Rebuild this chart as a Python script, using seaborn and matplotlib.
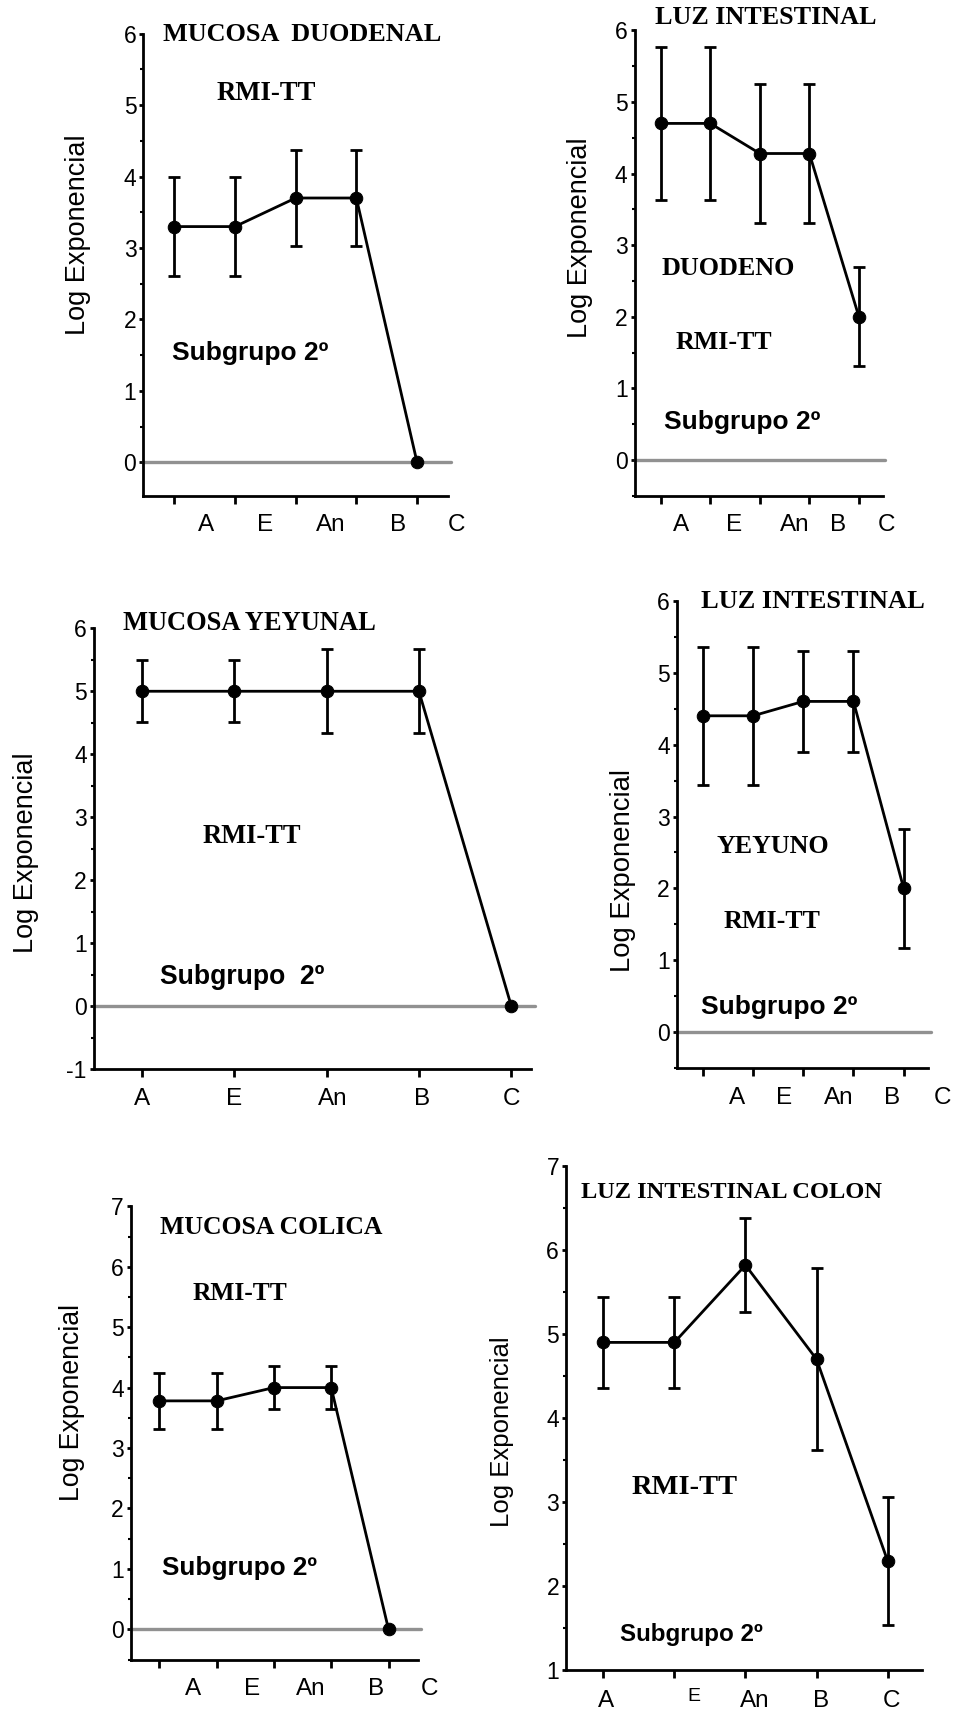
import matplotlib
matplotlib.use("Agg")
import matplotlib.pyplot as plt
import seaborn as sns
import pandas as pd
from matplotlib.ticker import MultipleLocator

sns.set_theme(style="ticks", rc={
    "axes.edgecolor": "black", "xtick.color": "black", "ytick.color": "black",
    "text.color": "black", "axes.labelcolor": "black",
    "axes.facecolor": "white", "figure.facecolor": "white",
    "axes.unicode_minus": False,
})
plt.rcParams["font.family"] = ["Liberation Sans", "DejaVu Sans"]
plt.rcParams["axes.unicode_minus"] = False

# ---------------- data ----------------
categories = ["A", "E", "An", "B", "C"]

duo_mucosa_mean = [3.3, 3.3, 3.7, 3.7, 0.0]
duo_mucosa_err = [0.69, 0.69, 0.67, 0.67, 0.0]

duo_luz_mean = [4.7, 4.7, 4.28, 4.28, 2.0]
duo_luz_err = [1.07, 1.07, 0.97, 0.97, 0.69]

yey_mucosa_mean = [5.0, 5.0, 5.0, 5.0, 0.0]
yey_mucosa_err = [0.49, 0.49, 0.67, 0.67, 0.0]

yey_luz_mean = [4.4, 4.4, 4.6, 4.6, 2.0]
yey_luz_err = [0.96, 0.96, 0.70, 0.70, 0.83]

col_mucosa_mean = [3.78, 3.78, 4.0, 4.0, 0.0]
col_mucosa_err = [0.46, 0.46, 0.35, 0.35, 0.0]

col_luz_mean = [4.9, 4.9, 5.82, 4.7, 2.3]
col_luz_err = [0.54, 0.54, 0.56, 1.08, 0.76]

W, H = 958, 1709
fig = plt.figure(figsize=(W / 100, H / 100), dpi=100)


def px(x, y):
    return x / W, 1 - y / H


def add_ax(l, t, r, b):
    return fig.add_axes([l / W, 1 - b / H, (r - l) / W, (b - t) / H])


SERIF = ["Liberation Serif", "DejaVu Serif"]
SANS = ["Liberation Sans", "DejaVu Sans"]

panels = [
    dict(mean=duo_mucosa_mean, err=duo_mucosa_err, box=(143.3, 33.7, 448, 495.9),
         xlim=(-0.51, 4.51), ylim=(-0.47, 6), zero=True,
         labpos=[0.52, 1.50, 2.58, 3.69, 4.65], laboff=13.2,
         ylab=(78, 235), ylfs=19.5,
         texts=[("MUCOSA  DUODENAL", 302, 34.4, SERIF, 18.9),
                ("RMI-TT", 266, 93, SERIF, 19.3),
                ("Subgrupo 2º", 250.5, 353, SANS, 19)]),
    dict(mean=duo_luz_mean, err=duo_luz_err, box=(634.5, 30.3, 882.7, 495.9),
         xlim=(-0.53, 4.48), ylim=(-0.5, 6), zero=True,
         labpos=[0.40, 1.47, 2.71, 3.57, 4.56], laboff=13.2,
         ylab=(580, 237.6), ylfs=19.5,
         texts=[("LUZ INTESTINAL", 765.8, 17.2, SERIF, 18.8),
                ("DUODENO", 728, 268.6, SERIF, 18.8),
                ("RMI-TT", 724, 342.6, SERIF, 18.6),
                ("Subgrupo 2º", 741.7, 421.8, SANS, 19)]),
    dict(mean=yey_mucosa_mean, err=yey_mucosa_err, box=(93.7, 628.3, 530.7, 1069),
         xlim=(-0.52, 4.21), ylim=(-1, 6), zero=True,
         labpos=[0, 1, 2.07, 3.03, 4], laboff=13.9,
         ylab=(26, 853), ylfs=19.5,
         texts=[("MUCOSA YEYUNAL", 249, 623, SERIF, 19.1),
                ("RMI-TT", 251.4, 836.7, SERIF, 19.1),
                ("Subgrupo  2º", 242.3, 976.7, SANS, 19.1)]),
    dict(mean=yey_luz_mean, err=yey_luz_err, box=(676.7, 600.7, 928.3, 1068.3),
         xlim=(-0.52, 4.49), ylim=(-0.5, 6), zero=True,
         labpos=[0.68, 1.61, 2.70, 3.77, 4.77], laboff=13.2,
         ylab=(623, 871), ylfs=19.8,
         texts=[("LUZ INTESTINAL", 813, 601.7, SERIF, 19),
                ("YEYUNO", 773, 846.7, SERIF, 18.7),
                ("RMI-TT", 771.7, 921.7, SERIF, 18.7),
                ("Subgrupo 2º", 778.7, 1006.7, SANS, 19)]),
    dict(mean=col_mucosa_mean, err=col_mucosa_err, box=(130.7, 1206.3, 418.3, 1659.5),
         xlim=(-0.50, 4.52), ylim=(-0.5, 7), zero=True,
         labpos=[0.58, 1.62, 2.65, 3.78, 4.72], laboff=13.2,
         ylab=(72, 1402.7), ylfs=19.2,
         texts=[("MUCOSA COLICA", 271.7, 1227.2, SERIF, 18.5),
                ("RMI-TT", 240, 1293, SERIF, 18.4),
                ("Subgrupo 2º", 240, 1568, SANS, 18.8)]),
    dict(mean=col_luz_mean, err=col_luz_err, box=(566, 1166, 921.7, 1670),
         xlim=(-0.525, 4.48), ylim=(1, 7), zero=False,
         labpos=[0.04, 1.27, 2.13, 3.06, 4.05], laboff=14.4,
         small_e=True, ylab=(502, 1432), ylfs=18.5,
         texts=[("LUZ INTESTINAL COLON", 731.7, 1192, SERIF, 17.6),
                ("RMI-TT", 684.2, 1487, SERIF, 20.5),
                ("Subgrupo 2º", 691.7, 1635, SANS, 17.4)]),
]

for p in panels:
    ax = add_ax(*p["box"])
    xs = list(range(len(categories)))
    df = pd.DataFrame({"x": xs, "y": p["mean"], "err": p["err"]})
    if p["zero"]:
        ax.axhline(0, color="#919191", lw=2.4, zorder=1.2, xmax=1.01, clip_on=False)
    sns.lineplot(data=df, x="x", y="y", ax=ax, color="black", lw=2.0,
                 marker="o", markersize=9, markeredgecolor="black",
                 markerfacecolor="black", zorder=3, clip_on=False)
    de = df[df["err"] > 0]
    ax.errorbar(de["x"], de["y"], yerr=de["err"], fmt="none", ecolor="black",
                elinewidth=2.0, capsize=4, capthick=2.0, zorder=2.5, clip_on=False)

    ax.set_xlim(*p["xlim"])
    ax.set_ylim(*p["ylim"])
    ax.set_xlabel("")
    ax.set_ylabel("")
    for s in ["top", "right"]:
        ax.spines[s].set_visible(False)
    for s in ["left", "bottom"]:
        ax.spines[s].set_linewidth(2.0)
        ax.spines[s].set_color("black")

    ax.yaxis.set_major_locator(MultipleLocator(1))
    ax.yaxis.set_minor_locator(MultipleLocator(0.5))
    ax.tick_params(axis="y", which="major", length=3, width=2, labelsize=16.5, pad=2,
                   direction="out")
    ax.tick_params(axis="y", which="minor", length=2, width=1.5, direction="out")

    ax.set_xticks(xs)
    ax.set_xticklabels([""] * len(xs))
    ax.tick_params(axis="x", which="major", length=6, width=2, direction="out")

    # category labels (drawn slightly offset from the tick marks, as in the original)
    for i, (pos, lab) in enumerate(zip(p["labpos"], categories)):
        fs, off = 17.5, p["laboff"]
        if p.get("small_e") and i == 1:
            fs, off = 14, 13.0
        ax.annotate(lab, xy=(pos, 0), xycoords=("data", "axes fraction"),
                    xytext=(0, -off), textcoords="offset points",
                    ha="center", va="top", fontsize=fs, annotation_clip=False)

    fig.text(*px(*p["ylab"]), "Log Exponencial", rotation=90, ha="center",
             va="center", fontsize=p["ylfs"], family=SANS)
    for txt, tx, ty, fam, fs in p["texts"]:
        fig.text(*px(tx, ty), txt, ha="center", va="center", fontsize=fs,
                 family=fam, fontweight="bold")

fig.savefig("out.png", dpi=100)
